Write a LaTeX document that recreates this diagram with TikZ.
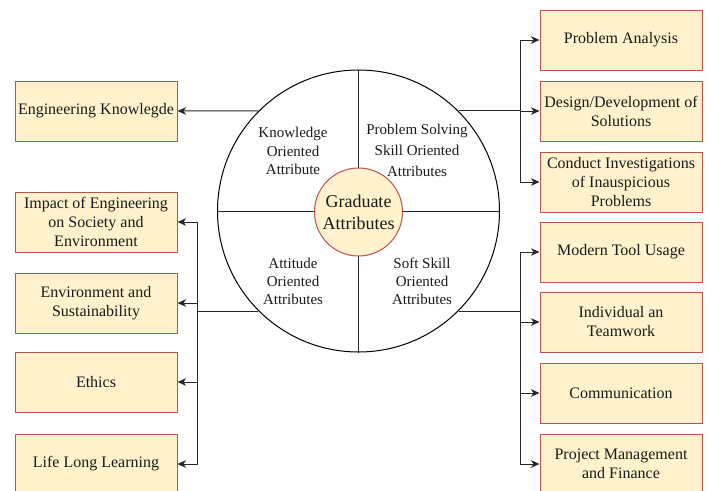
\documentclass[tikz,border=0pt]{standalone}
\usepackage{fontspec}
\setmainfont{Liberation Serif}
\usetikzlibrary{arrows.meta}
\definecolor{boxfill}{HTML}{FFF2CC}
\definecolor{boxline}{HTML}{B85450}
\definecolor{txt}{HTML}{1A1A1A}
\begin{document}
\begin{tikzpicture}[x=1pt,y=-1pt,
  attr/.style={draw=boxline, fill=boxfill, line width=1pt, minimum width=162pt,
    minimum height=60pt, align=center, inner sep=2pt,
    font=\fontsize{16}{19}\selectfont, text=txt},
  quad/.style={align=center, text=txt},
  link/.style={line width=1pt, draw=black!85},
  arr/.style={link, -{Stealth[length=8.5pt,width=7.5pt,inset=2.5pt]}}]
\useasboundingbox (0,0) rectangle (708,490);

% spine positions for the branching connectors
\coordinate (spL) at (197,0);
\coordinate (spR) at (520,0);

% outer wheel split into four quadrants
\node[circle, draw, line width=1pt, minimum size=282pt, inner sep=0] (outer) at (358.5,211) {};
\draw[link] (outer.north) -- (outer.south);
\draw[link] (outer.west) -- (outer.east);

% centre hub
\node[circle, draw=boxline, fill=boxfill, line width=1pt, minimum size=88pt, inner sep=0,
  align=center, text=txt, font=\fontsize{18}{22}\selectfont] (ga) at (358.5,212) {Graduate\\Attributes};

% quadrant captions
\node[quad, font=\fontsize{15}{18.5}\selectfont] (qk) at (293,151) {Knowledge\\Oriented\\Attribute};
\node[quad, font=\fontsize{15}{21}\selectfont] (qp) at (417,150) {Problem Solving\\Skill Oriented\\Attributes};
\node[quad, font=\fontsize{15}{18}\selectfont] (qa) at (293,281) {Attitude\\Oriented\\Attributes};
\node[quad, font=\fontsize{15}{18}\selectfont] (qs) at (422,281) {Soft Skill\\Oriented\\Attributes};

% left column
\node[attr] (ek) at (96,111) {Engineering Knowlegde};
\node[attr] (imp) at (96,222) {Impact of Engineering\\on Society and\\Environment};
\node[attr] (env) at (96,303) {Environment and\\Sustainability};
\node[attr] (eth) at (96,382) {Ethics};
\node[attr] (lll) at (96,464) {Life Long Learning};

% right column
\node[attr] (pa) at (621,40) {Problem Analysis};
\node[attr] (dd) at (621,111) {Design/Development of\\Solutions};
\node[attr] (ci) at (621,182) {Conduct Investigations\\of Inauspicious\\Problems};
\node[attr] (mt) at (621,252) {Modern Tool Usage};
\node[attr] (it) at (621,322) {Individual an\\Teamwork};
\node[attr] (cm) at (621,393) {Communication};
\node[attr] (pm) at (621,464) {Project Management\\and Finance};

% connectors
\draw[arr] (outer.135) -- (ek.east);
\foreach \t in {pa,dd,ci}
  \draw[arr] (outer.45) -- (outer.45 -| spR) |- (\t.west);
\foreach \t in {imp,env,eth,lll}
  \draw[arr] (outer.225) -- (outer.225 -| spL) |- (\t.east);
\foreach \t in {mt,it,cm,pm}
  \draw[arr] (outer.315) -- (outer.315 -| spR) |- (\t.west);
\end{tikzpicture}
\end{document}
